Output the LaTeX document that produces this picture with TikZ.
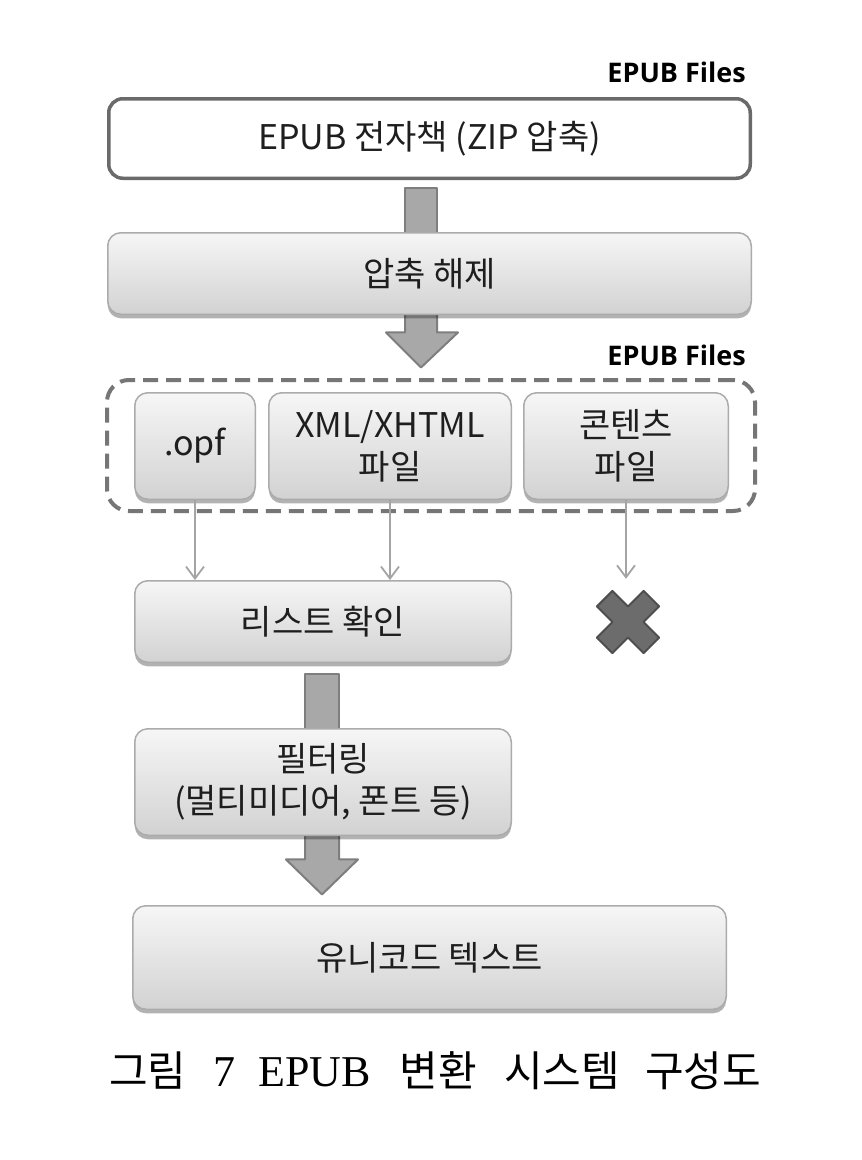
\documentclass[tikz,border=0pt]{standalone}
\usepackage{fontspec}
\setmainfont{Noto Sans CJK KR}
\newfontfamily\latbold{Open Sans}
\newfontfamily\capserif{Liberation Serif}
\usetikzlibrary{shadows,arrows.meta,calc}
\definecolor{txt}{HTML}{1E1E1E}
\definecolor{gtop}{HTML}{F6F6F6}
\definecolor{gbot}{HTML}{D2D2D2}
\definecolor{boxline}{HTML}{ABABAB}
\definecolor{darkline}{HTML}{6A6A6A}
\definecolor{blkfill}{HTML}{A8A8A8}
\definecolor{blkline}{HTML}{7E7E7E}
\definecolor{thinarr}{HTML}{A4A4A4}
\definecolor{dashcol}{HTML}{767676}
\definecolor{xfill}{HTML}{6C6C6C}
\definecolor{xline}{HTML}{4E4E4E}
\begin{document}
\begin{tikzpicture}[x=1pt,y=-1pt,
  boxfont/.style={font=\fontsize{34}{42}\selectfont},
  gbox/.style={draw=boxline, line width=1.5pt, rounded corners=13pt,
    top color=gtop, bottom color=gbot,
    drop shadow={shadow xshift=0pt, shadow yshift=-4pt, opacity=0.3, fill=black},
    text=txt, boxfont, align=center, inner sep=0pt},
  wbox/.style={draw=darkline, line width=3.5pt, rounded corners=14pt, fill=white,
    text=txt, boxfont, align=center, inner sep=0pt},
  blk/.style={fill=blkfill, draw=blkline, line width=2pt, line join=round},
  thinarrow/.style={draw=thinarr, line width=1.8pt, -{Straight Barb[length=12pt,width=18pt]}},
  filesbox/.style={draw=dashcol, line width=4pt, dash pattern=on 15pt off 8pt, rounded corners=22pt},
  lbl/.style={font=\latbold\bfseries\fontsize{27}{30}\selectfont, text=black, anchor=east, inner sep=0pt},
  capfont/.style={font=\fontsize{42}{50}\selectfont, text=black, inner sep=0pt}]
\useasboundingbox (0,0) rectangle (862,1160);
\fill[white] (0,0) rectangle (862,1160);

\coordinate (b1c) at (429.5,138.5);
\coordinate (b2c) at (429.5,273.5);

% invisible placeholders used to anchor the block arrows
\path (b1c) node[minimum width=641.5pt, minimum height=79.5pt, inner sep=0pt] (b1) {};
\path (b2c) node[minimum width=643.5pt, minimum height=81.5pt, inner sep=0pt] (b2) {};
\node[minimum width=376.5pt, minimum height=81.5pt, inner sep=0pt] (lst) at (323,621.5) {};
\node[minimum width=376.5pt, minimum height=106.5pt, inner sep=0pt] (filt) at (323,782) {};

% block arrows drawn first (boxes cover their ends)
\draw[blk] ($(b1.south)+(-24.5,10)$) rectangle ($(b2.north)+(7.5,6)$);
\draw[blk] ($(b2.south)+(-24.5,-6)$) -- ++(0,24) -- ++(-19,0) -- ++(35,35) -- ++(37,-35) -- ++(-21,0) -- ++(0,-24) -- cycle;
\draw[blk] ($(lst.south)+(-18,12)$) rectangle ($(filt.north)+(16,6)$);
\draw[blk] ($(filt.south)+(-18,-6)$) -- ++(0,30) -- ++(-19,0) -- ++(36,35) -- ++(36,-35) -- ++(-19,0) -- ++(0,-30) -- cycle;

% boxes
\node[wbox, minimum width=641.5pt, minimum height=79.5pt] (book) at (b1c) {EPUB 전자책 (ZIP 압축)};
\node[gbox, minimum width=643.5pt, minimum height=81.5pt] (unzip) at (b2c) {압축 해제};

\node[lbl] (files1) at (746,72) {EPUB Files};
\node[lbl] (files2) at (746,355) {EPUB Files};

\node[filesbox, minimum width=648pt, minimum height=131pt, inner sep=0pt] (grp) at (431,445.5) {};
\node[gbox, minimum width=120.5pt, minimum height=106.5pt] (opf) at (195,446) {.opf};
\node[gbox, minimum width=242.5pt, minimum height=106.5pt] (xml) at (390,446) {XML/XHTML\\파일};
\node[gbox, minimum width=204.5pt, minimum height=106.5pt] (kont) at (626,446) {콘텐츠\\파일};

\node[gbox, minimum width=376.5pt, minimum height=81.5pt] (list) at (323,621.5) {리스트 확인};
\node[gbox, minimum width=376.5pt, minimum height=106.5pt] (filter) at (323,782) {필터링\\(멀티미디어, 폰트 등)};
\node[gbox, minimum width=593.5pt, minimum height=103.5pt] (uni) at (429.5,957.5) {유니코드 텍스트};

% X mark
\node[minimum size=62pt, inner sep=0pt] (xmark) at (628,622) {};
\begin{scope}[shift={(xmark.center)}, rotate=45]
  \draw[fill=xfill, draw=xline, line width=2pt, line join=round]
    (11,11) -- (33,11) -- (33,-11) -- (11,-11) -- (11,-33) -- (-11,-33) -- (-11,-11)
    -- (-33,-11) -- (-33,11) -- (-11,11) -- (-11,33) -- (11,33) -- cycle;
\end{scope}

% thin arrows
\draw[thinarrow] (opf.south) -- (opf.south |- list.north);
\draw[thinarrow] (xml.south) -- (xml.south |- list.north);
\draw[thinarrow] (kont.south) -- ($(kont.south |- xmark.north)+(0,-12)$);

% caption
\node[capfont] (cap) at (435,1071) {그림\hspace{27pt}{\capserif\fontsize{44}{50}\selectfont 7}\hspace{23pt}{\capserif\fontsize{44}{50}\selectfont EPUB}\hspace{29pt}변환\hspace{27pt}시스템\hspace{25pt}구성도};
\end{tikzpicture}
\end{document}
